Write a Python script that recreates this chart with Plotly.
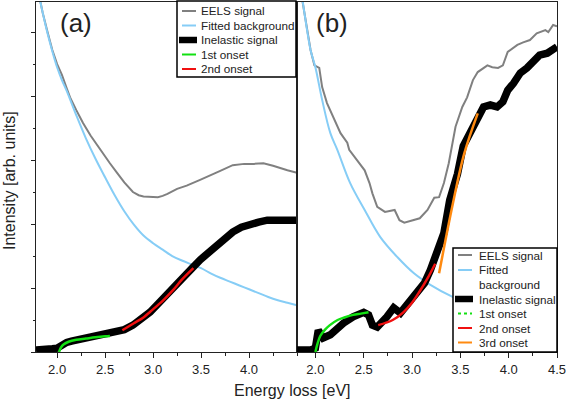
import plotly.graph_objects as go

FONT = "Liberation Sans, Arial, sans-serif"

# ---------------- Panel (a) data ----------------
a_eels_x = [1.78, 1.85, 1.90, 1.95, 2.00, 2.05, 2.10, 2.135, 2.20, 2.27, 2.35, 2.45, 2.55, 2.625, 2.70, 2.79,
            2.85, 2.90, 2.97, 3.05, 3.10, 3.15, 3.25, 3.35, 3.49, 3.60, 3.70, 3.83, 3.95, 4.05, 4.15, 4.25,
            4.32, 4.40, 4.50]
a_eels_y = [5.80, 5.30, 5.00, 4.72, 4.50, 4.33, 4.12, 3.98, 3.78, 3.58, 3.38, 3.16, 2.95, 2.80, 2.65, 2.50,
            2.45, 2.43, 2.42, 2.42, 2.44, 2.47, 2.55, 2.60, 2.69, 2.76, 2.83, 2.92, 2.94, 2.94, 2.95, 2.91,
            2.875, 2.84, 2.80]

a_bg_x = [1.78, 1.85, 1.90, 1.95, 2.00, 2.05, 2.10, 2.20, 2.30, 2.40, 2.50, 2.60, 2.70, 2.80, 2.90, 3.00,
          3.10, 3.20, 3.30, 3.40, 3.50, 3.60, 3.70, 3.80, 3.90, 4.00, 4.10, 4.20, 4.30, 4.40, 4.50]
a_bg_y = [5.80, 5.30, 4.98, 4.70, 4.45, 4.25, 4.08, 3.70, 3.34, 3.02, 2.73, 2.45, 2.20, 1.99, 1.82, 1.70,
          1.60, 1.50, 1.43, 1.37, 1.31, 1.23, 1.16, 1.10, 1.04, 0.98, 0.92, 0.86, 0.81, 0.77, 0.73]

a_inel_x = [1.78, 1.85, 1.90, 1.95, 2.00, 2.05, 2.10, 2.15, 2.21, 2.30, 2.40, 2.45, 2.55, 2.625, 2.70, 2.79,
            2.88, 2.97, 3.05, 3.146, 3.23, 3.31, 3.40, 3.49, 3.58, 3.67, 3.75, 3.83, 3.92, 4.01, 4.10, 4.19,
            4.30, 4.40, 4.50]
a_inel_y = [0.03, 0.03, 0.04, 0.05, 0.06, 0.12, 0.15, 0.17, 0.19, 0.22, 0.25, 0.27, 0.29, 0.31, 0.35, 0.42,
            0.51, 0.625, 0.75, 0.89, 1.02, 1.16, 1.30, 1.44, 1.56, 1.67, 1.78, 1.875, 1.95, 2.00, 2.03, 2.06,
            2.07, 2.06, 2.06]

a_on1_x = [2.02, 2.04, 2.07, 2.12, 2.20, 2.30, 2.40, 2.50, 2.55]
a_on1_y = [0.00, 0.07, 0.12, 0.16, 0.19, 0.21, 0.23, 0.245, 0.25]

a_on2_x = [2.68, 2.80, 2.90, 2.97, 3.10, 3.21, 3.30, 3.42]
a_on2_y = [0.34, 0.45, 0.54, 0.63, 0.80, 0.97, 1.13, 1.31]

# ---------------- Panel (b) data ----------------
b_eels_x = [1.81, 1.866, 1.95, 1.99, 2.04, 2.07, 2.12, 2.26, 2.33, 2.35, 2.43, 2.51, 2.56, 2.59, 2.64, 2.72,
            2.82, 2.87, 2.92, 3.02, 3.08, 3.16, 3.23, 3.28, 3.33, 3.38, 3.42, 3.45, 3.52, 3.57, 3.63, 3.68,
            3.78, 3.83, 3.89, 3.94, 3.99, 4.09, 4.15, 4.22, 4.29, 4.38, 4.41, 4.46, 4.50]
b_eels_y = [6.00, 5.50, 4.72, 4.48, 4.44, 4.14, 3.89, 3.42, 3.27, 3.16, 3.00, 2.84, 2.64, 2.48, 2.27, 2.19,
            2.22, 2.06, 2.02, 2.06, 2.09, 2.22, 2.41, 2.42, 2.64, 2.95, 3.27, 3.52, 3.83, 3.98, 4.25, 4.375,
            4.48, 4.45, 4.44, 4.48, 4.69, 4.80, 4.84, 4.875, 4.98, 5.03, 5.00, 5.11, 5.09]

b_bg_x = [1.81, 1.866, 1.95, 2.00, 2.07, 2.155, 2.227, 2.36, 2.51, 2.67, 2.85, 3.02, 3.19, 3.42, 3.60,
          3.80, 4.00, 4.25, 4.50]
b_bg_y = [6.00, 5.50, 4.72, 4.45, 3.94, 3.42, 3.16, 2.64, 2.22, 1.80, 1.48, 1.23, 1.05, 0.86, 0.74,
          0.63, 0.54, 0.45, 0.38]

b_inel_x = [1.81, 1.95, 2.00, 2.03, 2.08, 2.155, 2.29, 2.39, 2.50, 2.55, 2.59, 2.64, 2.74, 2.81, 2.88, 2.98,
            3.13, 3.19, 3.23, 3.26, 3.33, 3.39, 3.47, 3.53, 3.60, 3.67, 3.74, 3.81, 3.88, 3.94, 3.99, 4.05,
            4.12, 4.19, 4.25, 4.32, 4.40, 4.46, 4.50]
b_inel_y = [0.03, 0.03, 0.06, 0.34, 0.22, 0.27, 0.45, 0.55, 0.62, 0.58, 0.42, 0.39, 0.55, 0.69, 0.61, 0.81,
            1.08, 1.28, 1.44, 1.59, 1.86, 2.375, 2.78, 3.22, 3.42, 3.67, 3.83, 3.86, 3.83, 3.91, 4.09, 4.20,
            4.36, 4.44, 4.53, 4.64, 4.67, 4.75, 4.77]

b_on1_x = [2.00, 2.02, 2.05, 2.10, 2.15, 2.23, 2.30, 2.39, 2.47, 2.55]
b_on1_y = [0.00, 0.12, 0.25, 0.35, 0.42, 0.50, 0.54, 0.58, 0.60, 0.62]

b_on2_x = [2.65, 2.80, 2.91, 3.00, 3.08, 3.16, 3.24]
b_on2_y = [0.42, 0.50, 0.62, 0.77, 0.95, 1.15, 1.38]

b_on3_x = [3.28, 3.42, 3.54, 3.68]
b_on3_y = [1.23, 2.30, 3.10, 3.73]

# tick labels
a_tickvals = [2.0, 2.5, 3.0, 3.5, 4.0]
a_ticktext = ["2.0", "2.5", "3.0", "3.5", "4.0"]
b_tickvals = [2.0, 2.5, 3.0, 3.5, 4.0, 4.5]
b_ticktext = ["2.0", "2.5", "3.0", "3.5", "4.0", "4.5"]

# legend labels
a_legend_labels = ["EELS signal", "Fitted background", "Inelastic signal", "1st onset", "2nd onset"]
b_legend_labels = ["EELS signal", "Fitted<br>background", "Inelastic signal", "1st onset", "2nd onset", "3rd onset"]

GRAY = "#808080"
BLUE = "#86cdf6"
GREEN = "#12e012"
RED = "#f01010"
ORANGE = "#ff8a10"
TXT = "#222222"

fig = go.Figure()

def add(x, y, name, color, width, xa, ya, shape="linear"):
    fig.add_trace(go.Scatter(x=x, y=y, mode="lines", name=name,
                             line=dict(color=color, width=width, shape=shape),
                             xaxis=xa, yaxis=ya, showlegend=False, hoverinfo="skip"))

# panel a
add(a_eels_x, a_eels_y, "EELS signal", GRAY, 2, "x", "y")
add(a_bg_x, a_bg_y, "Fitted background", BLUE, 2, "x", "y", "spline")
add(a_inel_x, a_inel_y, "Inelastic signal", "black", 7.5, "x", "y")
add(a_on1_x, a_on1_y, "1st onset", GREEN, 2.5, "x", "y", "spline")
add(a_on2_x, a_on2_y, "2nd onset", RED, 2.5, "x", "y", "spline")

# panel b
add(b_eels_x, b_eels_y, "EELS signal", GRAY, 2, "x2", "y2")
add(b_bg_x, b_bg_y, "Fitted background", BLUE, 2, "x2", "y2", "spline")
add(b_inel_x, b_inel_y, "Inelastic signal", "black", 7.5, "x2", "y2")
add(b_on1_x, b_on1_y, "1st onset", GREEN, 2.5, "x2", "y2", "spline")
add(b_on2_x, b_on2_y, "2nd onset", RED, 2.5, "x2", "y2", "spline")
add(b_on3_x, b_on3_y, "3rd onset", ORANGE, 2.5, "x2", "y2", "spline")

# ---------- layout geometry (pixels) ----------
W, H = 567, 401
ML, MR, MT, MB = 36, 10, 2, 49
PW, PH = W - ML - MR, H - MT - MB


def px(xp):
    return (xp - ML) / PW


def py(yp):
    return (H - MB - yp) / PH


shapes = []
annotations = []


def draw_legend(box, rows, labels, styles, sample_x, text_x):
    x0, y0, x1, y1 = box
    shapes.append(dict(type="rect", xref="paper", yref="paper", x0=px(x0), x1=px(x1), y0=py(y1), y1=py(y0),
                       line=dict(color="black", width=1.5), fillcolor="white", layer="above"))
    for (label, (color, width, dash, thick)), yrow, ytxt in zip(zip(labels, styles), rows[0], rows[1]):
        sx0, sx1 = sample_x
        if thick:
            sx0, sx1 = sx0 - 3, sx1 + 1
        shapes.append(dict(type="line", xref="paper", yref="paper", x0=px(sx0), x1=px(sx1),
                           y0=py(yrow), y1=py(yrow), layer="above",
                           line=dict(color=color, width=width, dash=dash)))
        annotations.append(dict(text=label, x=px(text_x), y=py(ytxt), xref="paper", yref="paper",
                                xanchor="left", yanchor="middle", align="left", showarrow=False,
                                font=dict(family=FONT, size=11.7, color=TXT)))


a_styles = [(GRAY, 2, "solid", False), (BLUE, 2, "solid", False), ("black", 6.5, "solid", True),
            (GREEN, 2, "solid", False), (RED, 2, "solid", False)]
b_styles = [(GRAY, 2, "solid", False), (BLUE, 2, "solid", False), ("black", 6.5, "solid", True),
            (GREEN, 2, "dot", False), (RED, 2, "solid", False), (ORANGE, 2, "solid", False)]

a_rows = [11, 25.5, 40, 54.5, 69]
draw_legend((177, 1, 296, 77), (a_rows, a_rows), a_legend_labels, a_styles, (182, 196), 199)

b_rows = [255, 270, 299, 313.5, 328, 342.5]
b_text_rows = [255, 277, 299, 313.5, 328, 342.5]
draw_legend((453, 248, 557, 352), (b_rows, b_text_rows), b_legend_labels, b_styles, (458, 472), 477)

annotations += [
    dict(text="(a)", x=px(76), y=py(23), xref="paper", yref="paper", showarrow=False,
         xanchor="center", yanchor="middle", font=dict(family=FONT, size=26, color=TXT)),
    dict(text="(b)", x=px(332), y=py(23), xref="paper", yref="paper", showarrow=False,
         xanchor="center", yanchor="middle", font=dict(family=FONT, size=26, color=TXT)),
    dict(text="Intensity [arb. units]", x=px(9), y=py(181), xref="paper", yref="paper",
         showarrow=False, textangle=-90, xanchor="center", yanchor="middle",
         font=dict(family=FONT, size=16, color=TXT)),
    dict(text="Energy loss [eV]", x=px(292), y=py(390), xref="paper", yref="paper",
         showarrow=False, xanchor="center", yanchor="middle", font=dict(family=FONT, size=16, color=TXT)),
]

axis_common = dict(showgrid=False, zeroline=False, showline=True, linecolor=TXT, linewidth=1,
                   mirror=True, tickcolor=TXT,
                   tickfont=dict(family=FONT, size=13, color=TXT))

YMAX = 5.47
fig.update_layout(
    width=W, height=H,
    margin=dict(l=ML, r=MR, t=MT, b=MB),
    paper_bgcolor="white", plot_bgcolor="white",
    font=dict(family=FONT, color=TXT),
    showlegend=False,
    xaxis=dict(domain=[0, 0.501], range=[1.78, 4.5], anchor="y", tickvals=a_tickvals, ticktext=a_ticktext,
               ticks="outside", ticklen=5,
               minor=dict(dtick=0.25, tick0=2.0, ticklen=3, ticks="outside", tickcolor=TXT),
               **axis_common),
    yaxis=dict(domain=[0, 1], range=[0, YMAX], anchor="x", dtick=1, tick0=0, ticks="outside", ticklen=4,
               showticklabels=False,
               minor=dict(dtick=0.5, ticklen=2, ticks="outside", tickcolor=TXT), **axis_common),
    xaxis2=dict(domain=[0.501, 1], range=[1.81, 4.5], anchor="y2", tickvals=b_tickvals, ticktext=b_ticktext,
                ticks="outside", ticklen=5,
                minor=dict(dtick=0.25, tick0=2.0, ticklen=3, ticks="outside", tickcolor=TXT),
                **axis_common),
    yaxis2=dict(domain=[0, 1], range=[0, YMAX], anchor="x2", showticklabels=False, ticks="",
                **axis_common),
    shapes=shapes,
    annotations=annotations,
)

fig.write_html("out.html", config={"displayModeBar": False},
               post_script="document.body.style.margin='0px';document.body.style.overflow='hidden';")
